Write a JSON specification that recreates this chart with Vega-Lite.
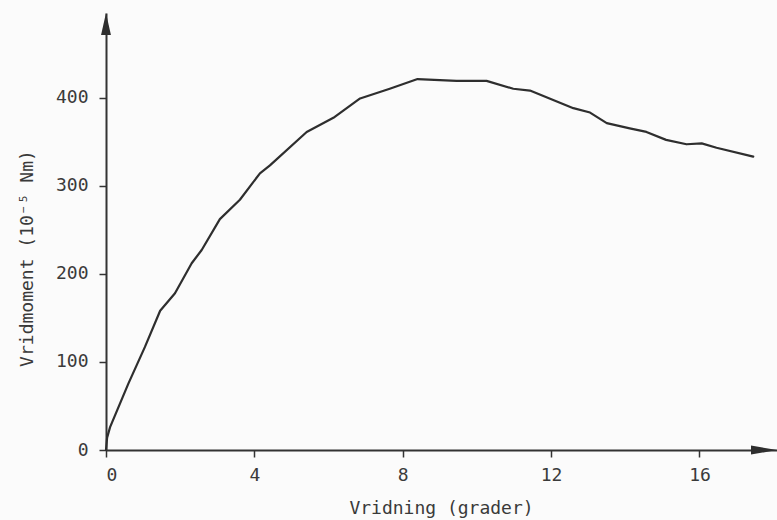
{
  "$schema": "https://vega.github.io/schema/vega-lite/v6.json",
  "width": 671,
  "height": 437,
  "autosize": {"type": "none"},
  "padding": {"left": 106, "top": 13, "right": 0, "bottom": 70},
  "background": "#fbfbfb",
  "config": {
    "view": {"stroke": null},
    "font": "DejaVu Sans Mono",
    "axis": {
      "grid": false,
      "domainColor": "#333333",
      "domainWidth": 2,
      "tickColor": "#333333",
      "tickWidth": 1.5,
      "tickSize": 7,
      "labelFont": "DejaVu Sans Mono",
      "labelFontSize": 18,
      "labelColor": "#3a3a3a",
      "titleFont": "DejaVu Sans Mono",
      "titleFontSize": 18,
      "titleFontWeight": "normal",
      "titleColor": "#3a3a3a"
    }
  },
  "datasets": {
    "curve": [
      {"vridning": 0, "moment": 0},
      {"vridning": 0.03, "moment": 14},
      {"vridning": 0.11, "moment": 26},
      {"vridning": 0.6, "moment": 75},
      {"vridning": 1.05, "moment": 117},
      {"vridning": 1.46, "moment": 158},
      {"vridning": 1.86, "moment": 178},
      {"vridning": 2.31, "moment": 212},
      {"vridning": 2.58, "moment": 227},
      {"vridning": 3.07, "moment": 262},
      {"vridning": 3.61, "moment": 284},
      {"vridning": 4.15, "moment": 314},
      {"vridning": 4.42, "moment": 323},
      {"vridning": 5.41, "moment": 361},
      {"vridning": 6.13, "moment": 377},
      {"vridning": 6.85, "moment": 399},
      {"vridning": 7.65, "moment": 410},
      {"vridning": 8.4, "moment": 421},
      {"vridning": 9.45, "moment": 419},
      {"vridning": 10.26, "moment": 419},
      {"vridning": 10.98, "moment": 410},
      {"vridning": 11.43, "moment": 408},
      {"vridning": 12.6, "moment": 388},
      {"vridning": 13.05, "moment": 383},
      {"vridning": 13.5, "moment": 371},
      {"vridning": 14.12, "moment": 365},
      {"vridning": 14.57, "moment": 361},
      {"vridning": 15.1, "moment": 352},
      {"vridning": 15.65, "moment": 347},
      {"vridning": 16.06, "moment": 348},
      {"vridning": 16.46, "moment": 343},
      {"vridning": 17.45, "moment": 333}
    ],
    "yArrow": [{"vridning": 0, "moment": 496}],
    "xArrow": [{"vridning": 18.09, "moment": 0}]
  },
  "layer": [
    {
      "data": {"name": "curve"},
      "mark": {"type": "line", "color": "#2e2e2e", "strokeWidth": 2.2, "strokeJoin": "round", "strokeCap": "round"},
      "encoding": {
        "x": {
          "field": "vridning", "type": "quantitative",
          "scale": {"domain": [0, 18.09], "nice": false, "zero": false},
          "axis": {
            "values": [0, 4, 8, 12, 16],
            "title": "Vridning (grader)",
            "labelPadding": 9,
            "titleY": 58,
            "titleBaseline": "middle",
            "titleAlign": "center",
            "titleX": 335
          }
        },
        "y": {
          "field": "moment", "type": "quantitative",
          "scale": {"domain": [0, 496], "nice": false, "zero": false},
          "axis": {
            "values": [0, 100, 200, 300, 400],
            "title": "Vridmoment (10⁻⁵ Nm)",
            "labelPadding": 11,
            "titleAngle": 270,
            "titleX": -79,
            "titleY": 245,
            "titleBaseline": "middle",
            "titleAlign": "center"
          }
        }
      }
    },
    {
      "data": {"name": "yArrow"},
      "mark": {"type": "point", "shape": "M0,0L0.45,2L-0.45,2Z", "size": 484, "filled": true, "color": "#2e2e2e", "opacity": 1},
      "encoding": {
        "x": {"field": "vridning", "type": "quantitative"},
        "y": {"field": "moment", "type": "quantitative"}
      }
    },
    {
      "data": {"name": "xArrow"},
      "mark": {"type": "point", "shape": "M0,0L-2,0.35L-2,-0.35Z", "size": 676, "filled": true, "color": "#2e2e2e", "opacity": 1},
      "encoding": {
        "x": {"field": "vridning", "type": "quantitative"},
        "y": {"field": "moment", "type": "quantitative"}
      }
    }
  ]
}
